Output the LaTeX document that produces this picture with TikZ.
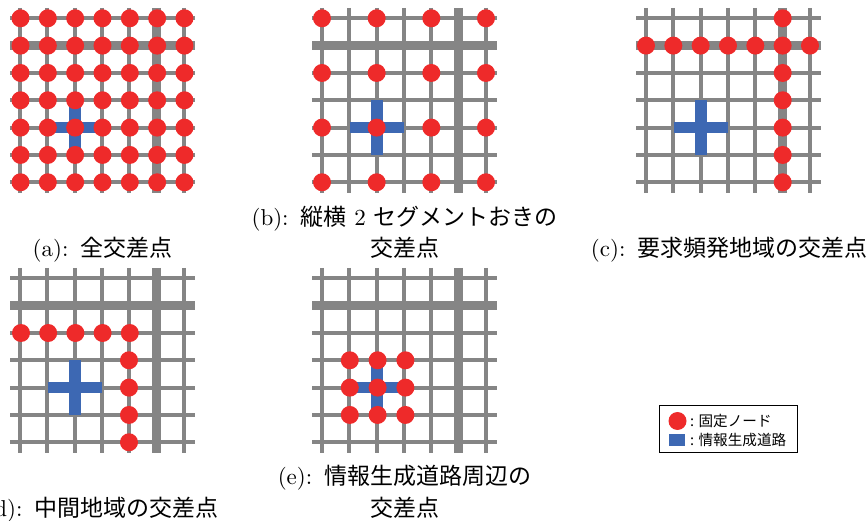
\documentclass[tikz,border=0pt]{standalone}
\usepackage{xcolor}
\usepackage{fontspec}
\setmainfont{lmroman10-regular.otf}
\newfontfamily\cjk{Noto Sans CJK JP}
\definecolor{roadgray}{HTML}{858585}
\definecolor{nodered}{HTML}{EE2A2A}
\definecolor{routeblue}{HTML}{3D68B3}
\tikzset{
    road/.style={draw=roadgray,line width=4pt},
    mainroad/.style={draw=roadgray,line width=9pt},
    inforoad/.style={draw=routeblue,line width=11.5pt},
    fixednode/.style={circle,fill=nodered,minimum size=18pt,inner sep=0pt},
    captiontext/.style={font=\fontsize{23}{31.5}\selectfont,align=center},
    legendtext/.style={anchor=west,inner sep=0pt,font=\fontsize{14.6}{16}\cjk},
}
\newcommand{\capgap}{\hspace{12pt}}
% one street grid with the information road, offset in pixels
\newcommand{\roadgrid}[2]{
    \begin{scope}[shift={(#1,#2)}]
        \foreach \i in {0,...,6}{
            \ifnum\i=1\relax\else
                \draw[road] (10,18.3+27.33*\i) -- (195,18.3+27.33*\i);
            \fi
            \ifnum\i=5\relax\else
                \draw[road] (20+27.33*\i,8) -- (20+27.33*\i,193);
            \fi
        }
        \draw[mainroad] (10,45.6) -- (195,45.6);
        \draw[mainroad] (156.7,8) -- (156.7,193);
        \draw[inforoad] (47.7,127.6) -- (102.3,127.6);
        \draw[inforoad] (75,100.3) -- (75,155);
    \end{scope}
}
\begin{document}
\begin{tikzpicture}[x=1pt,y=-1pt]
    \useasboundingbox (0,0) rectangle (868,521);
    \roadgrid{0}{0}
    \roadgrid{302}{0}
    \roadgrid{626}{0}
    \roadgrid{0}{260}
    \roadgrid{302}{260}
    % (a) all intersections
    \foreach \col in {0,...,6}{
        \foreach \row in {0,...,6}{
            \node[fixednode] (a\col\row) at (20.5+27.33*\col,18.3+27.33*\row) {};
        }
    }
    % (b) every second segment
    \foreach \col in {0,2,4,6}{
        \foreach \row in {0,2,4,6}{
            \node[fixednode] (b\col\row) at (322+27.33*\col,18.3+27.33*\row) {};
        }
    }
    % (c) high demand area
    \foreach \col in {0,...,6}{
        \node[fixednode] (ch\col) at (646+27.33*\col,45.6) {};
    }
    \foreach \row in {0,2,3,4,5,6}{
        \node[fixednode] (cv\row) at (782.7,18.3+27.33*\row) {};
    }
    % (d) middle area
    \foreach \col in {0,...,4}{
        \node[fixednode] (dh\col) at (21+27.2*\col,333) {};
    }
    \foreach \row in {3,4,5,6}{
        \node[fixednode] (dv\row) at (129,278.3+27.33*\row) {};
    }
    % (e) around the information road
    \foreach \col in {1,2,3}{
        \foreach \row in {3,4,5}{
            \node[fixednode] (e\col\row) at (322+27.8*\col,278.3+27.33*\row) {};
        }
    }
    % captions
    \node[captiontext] (capa) at (102.5,250) {(a):\capgap{\cjk 全交差点}};
    \node[captiontext] (capb) at (404.5,232.5) {(b):\capgap{\cjk 縦横} 2 {\cjk セグメントおきの}\\{\cjk 交差点}};
    \node[captiontext,anchor=east] (capc) at (871,250) {(c):\capgap{\cjk 要求頻発地域の交差点}};
    \node[captiontext,anchor=east] (capd) at (222,510) {(d):\capgap{\cjk 中間地域の交差点}};
    \node[captiontext] (cape) at (404.5,492) {(e):\capgap{\cjk 情報生成道路周辺の}\\{\cjk 交差点}};
    % legend
    \node[draw=black,line width=1pt,minimum width=138pt,minimum height=46pt] (legendbox) at (728,429) {};
    \node[fixednode] (legenddot) at (677.5,421) {};
    \node[fill=routeblue,minimum width=16pt,minimum height=12pt,inner sep=0pt] (legendroad) at (677,440) {};
    \node[legendtext] (legendnode) at (690,421) {: 固定ノード};
    \node[legendtext] (legendinfo) at (690,440) {: 情報生成道路};
\end{tikzpicture}
\end{document}
